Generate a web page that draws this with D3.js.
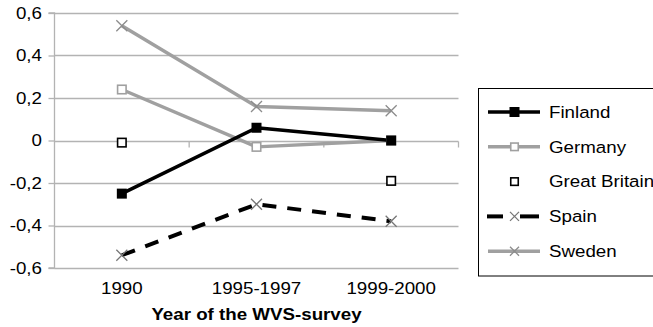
<!DOCTYPE html>
<html>
<head>
<meta charset="utf-8">
<script src="https://cdn.jsdelivr.net/npm/d3@7/dist/d3.min.js"></script>
<style>
html, body { margin: 0; padding: 0; background: #fff; }
svg { display: block; font-family: "Liberation Sans", Arial, sans-serif; }
</style>
</head>
<body>
<svg id="chart" width="653" height="327"></svg>
<script>
const categories = ["1990", "1995-1997", "1999-2000"];
const yTicks = [-0.6, -0.4, -0.2, 0, 0.2, 0.4, 0.6];
const finland = [-0.25, 0.06, 0.0];
const germany = [0.24, -0.03, 0.0];
const greatBritain = [-0.01, null, -0.19];
const spain = [-0.54, -0.30, -0.38];
const sweden = [0.54, 0.16, 0.14];
const seriesNames = ["Finland", "Germany", "Great Britain", "Spain", "Sweden"];
const axisTitle = "Year of the WVS-survey";

(function () {
const GRAY = "#a0a0a0";
const FS = 16.3, SX = 1.15;
const series = [
  {name: seriesNames[0], values: finland, line: true, color: "#000", width: 3.5, dash: null, marker: "fsquare", mcolor: "#000"},
  {name: seriesNames[1], values: germany, line: true, color: GRAY, width: 3.5, dash: null, marker: "osquare", mcolor: GRAY},
  {name: seriesNames[2], values: greatBritain, line: false, color: "#000", width: 0, dash: null, marker: "osquare", mcolor: "#000"},
  {name: seriesNames[3], values: spain, line: true, color: "#000", width: 4, dash: "14,11", marker: "x", mcolor: "#777"},
  {name: seriesNames[4], values: sweden, line: true, color: GRAY, width: 3.5, dash: null, marker: "x", mcolor: "#8c8c8c"}
];

const svg = d3.select("#chart");
const pLeft = 54.5, pRight = 458.5, pTop = 13, pBottom = 268;
const x = d3.scaleBand().domain(categories).range([pLeft, pRight]);
const y = d3.scaleLinear().domain([-0.6, 0.6]).range([pBottom, pTop]);
const fmt = d => d === 0 ? "0" : d3.format(".1f")(d).replace(".", ",").replace("−", "-");

function label(g, tx, ty, str, anchor, bold) {
  return g.append("text")
    .attr("transform", `translate(${tx},${ty}) scale(${SX},1)`)
    .attr("text-anchor", anchor).attr("font-size", FS)
    .attr("font-weight", bold ? "bold" : null).attr("fill", "#000")
    .text(str);
}

// gridlines
svg.append("g").selectAll("line").data(yTicks).join("line")
  .attr("x1", pLeft).attr("x2", pRight)
  .attr("y1", d => Math.round(y(d)) + 0.5).attr("y2", d => Math.round(y(d)) + 0.5)
  .attr("stroke", "#b3b3b3").attr("stroke-width", 1.3);

// y axis
const yAxis = svg.append("g").attr("transform", `translate(${pLeft},0)`)
  .call(d3.axisLeft(y).tickValues(yTicks).tickSize(6).tickFormat(fmt));
yAxis.select(".domain").attr("stroke", "#b3b3b3").attr("stroke-width", 1.3).attr("d", `M-6,${pTop}H0V${pBottom}H-6`);
yAxis.selectAll(".tick line").attr("stroke", "#b3b3b3").attr("stroke-width", 1.3);
yAxis.selectAll(".tick text").remove();
yTicks.forEach(t => label(svg, 42, y(t) + 5.8, fmt(t), "end", false));

// category ticks on zero line
const bounds = categories.map(c => x(c) + x.bandwidth());
svg.append("g").selectAll("line").data(bounds).join("line")
  .attr("x1", d => d).attr("x2", d => d)
  .attr("y1", Math.round(y(0)) + 0.5).attr("y2", Math.round(y(0)) + 6.5)
  .attr("stroke", "#b3b3b3").attr("stroke-width", 1.3);

// x labels
const xAxis = svg.append("g").attr("transform", `translate(0,${pBottom})`)
  .call(d3.axisBottom(x).tickSize(0));
xAxis.select(".domain").remove();
xAxis.selectAll(".tick text").remove();
categories.forEach(c => label(svg, x(c) + x.bandwidth() / 2, 294, c, "middle", false));

label(svg, (pLeft + pRight) / 2, 320, axisTitle, "middle", true);

function drawMarker(g, type, cx, cy, color, size) {
  if (type === "fsquare") {
    g.append("rect").attr("x", cx - size/2).attr("y", cy - size/2).attr("width", size).attr("height", size)
      .attr("fill", color);
  } else if (type === "osquare") {
    g.append("rect").attr("x", cx - size/2 + 0.75).attr("y", cy - size/2 + 0.75).attr("width", size - 1.5).attr("height", size - 1.5)
      .attr("fill", "#fff").attr("stroke", color).attr("stroke-width", 1.6);
  } else if (type === "x") {
    const s = size / 2;
    g.append("path").attr("d", `M${cx - s},${cy - s}L${cx + s},${cy + s}M${cx - s},${cy + s}L${cx + s},${cy - s}`)
      .attr("stroke", color).attr("stroke-width", 1.3).attr("fill", "none");
  }
}

const cx = c => x(c) + x.bandwidth() / 2;
const plotOrder = [2, 3, 4, 1, 0];
plotOrder.forEach(i => {
  const s = series[i];
  if (!s.line) return;
  const line = d3.line().defined(d => d.v !== null).x(d => cx(d.c)).y(d => y(d.v));
  svg.append("path").datum(categories.map((c, j) => ({c, v: s.values[j]})))
    .attr("d", line).attr("fill", "none").attr("stroke", s.color)
    .attr("stroke-width", s.width).attr("stroke-dasharray", s.dash)
    .attr("stroke-linejoin", "round");
});
plotOrder.forEach(i => {
  const s = series[i];
  const g = svg.append("g");
  categories.forEach((c, j) => {
    if (s.values[j] === null) return;
    const sz = s.marker === "x" ? 11 : 10;
    drawMarker(g, s.marker, cx(c), y(s.values[j]), s.mcolor, sz);
  });
});

// legend
const lg = svg.append("g");
lg.append("rect").attr("x", 478.5).attr("y", 88.5).attr("width", 200).attr("height", 187.5)
  .attr("fill", "#fff").attr("stroke", "#000").attr("stroke-width", 1);
series.forEach((s, i) => {
  const ly = 112 + i * 34.8;
  const g = lg.append("g");
  if (s.line) {
    if (s.dash) {
      [[487, 503], [520, 539]].forEach(([a, b]) =>
        g.append("line").attr("x1", a).attr("x2", b).attr("y1", ly).attr("y2", ly)
          .attr("stroke", s.color).attr("stroke-width", s.width));
    } else {
      g.append("line").attr("x1", 488).attr("x2", 540).attr("y1", ly).attr("y2", ly)
        .attr("stroke", s.color).attr("stroke-width", s.width);
    }
  }
  drawMarker(g, s.marker, 514.5, ly, s.mcolor, s.marker === "x" ? 9 : (s.marker === "fsquare" ? 10 : 9));
  label(g, 549, ly + 5.8, s.name, "start", false);
});
})();
</script>
</body>
</html>
